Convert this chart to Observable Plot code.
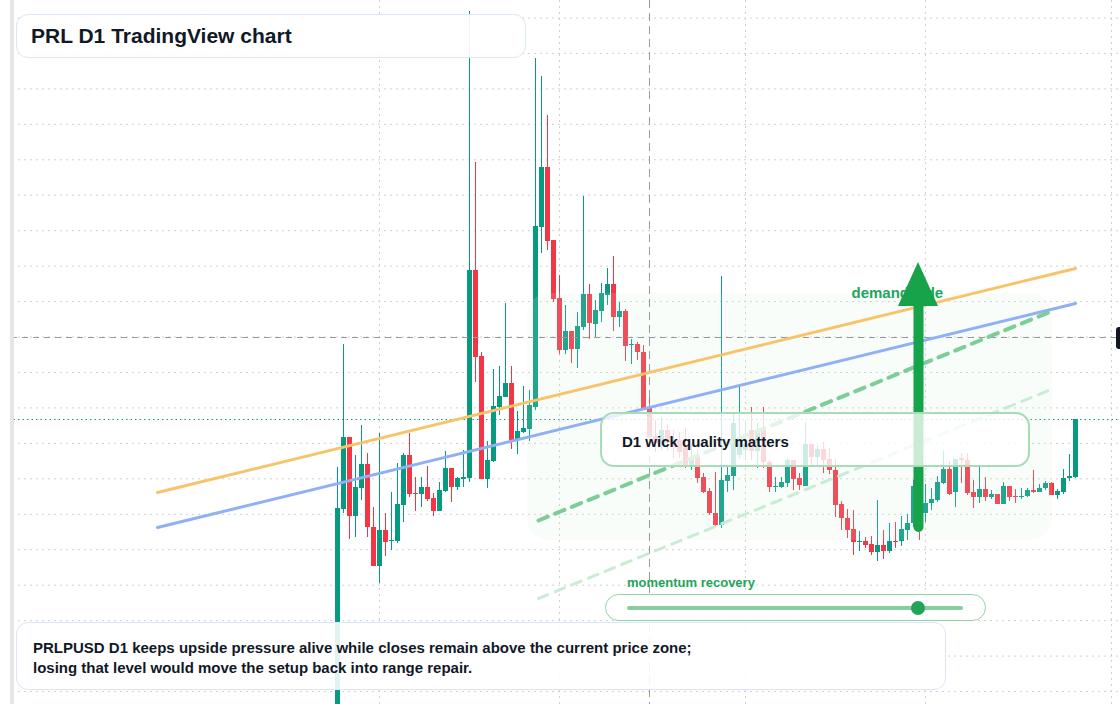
<!DOCTYPE html>
<html>
<head>
<meta charset="utf-8">
<script src="https://cdn.jsdelivr.net/npm/d3@7"></script>
<script src="https://cdn.jsdelivr.net/npm/@observablehq/plot@0.6"></script>
<style>
html, body { margin: 0; padding: 0; background: #fff; }
#wrap { position: relative; width: 1120px; height: 704px; overflow: hidden; background: #fff;
  font-family: "Liberation Sans", Arial, sans-serif; }
#chart { position: absolute; left: 0; top: 0; }
#chart svg { display: block; }
.ov { position: absolute; box-sizing: border-box; }
.leftmask { left: 0; top: 0; width: 10px; height: 704px; background: #fff; }
.leftstrip { left: 10px; top: 0; width: 4px; height: 704px; background: #e6e6e6; }
.titlebox { left: 16px; top: 14px; width: 510px; height: 44px; border: 1.5px solid #dbe6f8; border-radius: 12px;
  background: rgba(255,255,255,0.92); padding-left: 14px; font-weight: bold; font-size: 21px; line-height: 41px; color: #111827; white-space: nowrap; }
.capbox { left: 16px; top: 622px; width: 930px; height: 68px; border: 1.5px solid #dbe6f8; border-radius: 12px;
  background: rgba(255,255,255,0.88); padding-left: 16px; padding-top: 14.5px; font-weight: bold; font-size: 15px; line-height: 20px; color: #111827; white-space: nowrap; }
.notebox { left: 600px; top: 412px; width: 430px; height: 55px; border: 2px solid #a6dcb6; border-radius: 14px;
  background: rgba(255,255,255,0.78); padding-left: 20px; padding-top: 18px; font-weight: bold; font-size: 15px; line-height: 20px; color: #111827; white-space: nowrap; }
.momlabel { left: 627px; top: 574.5px; font-weight: bold; font-size: 13px; line-height: 16px; color: #22a55a; white-space: nowrap; }
.slider { left: 605px; top: 594px; width: 381px; height: 27px; border: 1.5px solid #8fd4a6; border-radius: 14px; background: #fff; }
.track { left: 627px; top: 606px; width: 336px; height: 4px; border-radius: 2px; background: #86cf9c; }
.knob { left: 911px; top: 601px; width: 14px; height: 14px; border-radius: 50%; background: #22a55a; }
.pricetag { left: 1116px; top: 327px; width: 20px; height: 22px; border-radius: 3px; background: #131722; }
</style>
</head>
<body>
<div id="wrap">
  <div id="chart"></div>
  <div class="ov leftmask"></div>
  <div class="ov leftstrip"></div>
  <div class="ov pricetag"></div>
  <div class="ov notebox">D1 wick quality matters</div>
  <div class="ov momlabel">momentum recovery</div>
  <div class="ov slider"></div>
  <div class="ov track"></div>
  <div class="ov knob"></div>
  <div class="ov titlebox">PRL D1 TradingView chart</div>
  <div class="ov capbox">PRLPUSD D1 keeps upside pressure alive while closes remain above the current price zone;<br>losing that level would move the setup back into range repair.</div>
</div>
<script>
// ---- data (daily candles) ----
const firstCandle = "2025-03-25";
const opens = [0.288,0.491,0.563,0.484,0.512,0.536,0.473,0.434,0.470,0.459,0.459,0.495,0.545,0.507,0.506,0.513,0.502,0.489,0.509,0.532,
  0.513,0.521,0.522,0.730,0.644,0.521,0.539,0.593,0.603,0.617,0.560,0.568,0.571,0.593,0.773,0.833,0.760,0.702,0.650,0.669,
  0.651,0.673,0.706,0.676,0.689,0.705,0.716,0.683,0.689,0.655,0.656,0.648,0.593,0.564,0.558,0.570,0.559,0.560,0.553,0.535,
  0.543,0.523,0.509,0.487,0.475,0.519,0.524,0.545,0.550,0.570,0.549,0.570,0.538,0.513,0.513,0.517,0.540,0.522,0.514,0.556,
  0.543,0.551,0.541,0.530,0.496,0.482,0.471,0.458,0.459,0.456,0.448,0.455,0.449,0.459,0.459,0.470,0.477,0.495,0.487,0.497,
  0.500,0.517,0.531,0.508,0.542,0.540,0.508,0.503,0.511,0.503,0.506,0.496,0.514,0.504,0.503,0.504,0.510,0.508,0.512,0.517,
  0.505,0.508,0.522,0.523];
const highs = [0.533,0.656,0.563,0.545,0.575,0.547,0.493,0.567,0.487,0.508,0.537,0.547,0.567,0.523,0.523,0.534,0.507,0.518,0.549,0.532,
  0.523,0.550,0.989,0.838,0.648,0.559,0.631,0.634,0.697,0.634,0.589,0.614,0.610,0.942,0.924,0.885,0.760,0.725,0.695,0.669,
  0.688,0.804,0.716,0.700,0.717,0.732,0.744,0.698,0.691,0.661,0.658,0.655,0.607,0.580,0.583,0.576,0.570,0.568,0.572,0.555,
  0.550,0.527,0.512,0.528,0.724,0.533,0.587,0.614,0.580,0.593,0.577,0.593,0.540,0.523,0.523,0.542,0.540,0.527,0.578,0.556,
  0.555,0.558,0.552,0.541,0.499,0.491,0.490,0.469,0.463,0.464,0.500,0.470,0.477,0.478,0.484,0.486,0.520,0.505,0.516,0.512,
  0.524,0.549,0.539,0.541,0.547,0.547,0.520,0.535,0.523,0.510,0.506,0.518,0.514,0.511,0.512,0.512,0.530,0.516,0.519,0.518,
  0.511,0.531,0.546,0.581];
const lows = [0.284,0.487,0.461,0.463,0.500,0.463,0.434,0.417,0.444,0.450,0.457,0.478,0.503,0.489,0.493,0.499,0.484,0.489,0.508,0.498,
  0.510,0.513,0.518,0.618,0.521,0.512,0.538,0.585,0.603,0.551,0.546,0.567,0.559,0.590,0.747,0.750,0.698,0.646,0.646,0.637,
  0.632,0.670,0.661,0.662,0.678,0.695,0.669,0.673,0.639,0.636,0.640,0.592,0.553,0.548,0.550,0.550,0.542,0.542,0.532,0.530,
  0.517,0.507,0.485,0.474,0.472,0.508,0.510,0.542,0.540,0.540,0.532,0.532,0.508,0.508,0.512,0.513,0.510,0.510,0.514,0.533,
  0.533,0.527,0.526,0.483,0.470,0.462,0.445,0.449,0.452,0.445,0.439,0.441,0.447,0.452,0.454,0.460,0.473,0.460,0.478,0.490,
  0.498,0.516,0.505,0.493,0.517,0.505,0.492,0.497,0.499,0.501,0.496,0.496,0.499,0.497,0.501,0.503,0.507,0.508,0.510,0.505,
  0.501,0.506,0.519,0.522];
const closes = [0.492,0.563,0.484,0.513,0.536,0.473,0.434,0.470,0.458,0.460,0.496,0.545,0.506,0.506,0.513,0.501,0.489,0.510,0.532,0.513,
  0.522,0.523,0.730,0.643,0.521,0.540,0.594,0.604,0.617,0.560,0.569,0.572,0.595,0.774,0.833,0.759,0.701,0.650,0.669,0.651,
  0.674,0.706,0.677,0.690,0.707,0.716,0.683,0.689,0.654,0.656,0.648,0.592,0.563,0.557,0.570,0.557,0.553,0.548,0.535,0.543,
  0.522,0.508,0.487,0.475,0.520,0.525,0.577,0.560,0.556,0.549,0.570,0.538,0.513,0.514,0.518,0.540,0.521,0.515,0.556,0.543,
  0.551,0.540,0.530,0.495,0.482,0.470,0.458,0.459,0.455,0.448,0.455,0.449,0.459,0.458,0.471,0.477,0.514,0.472,0.497,0.501,
  0.518,0.531,0.506,0.541,0.540,0.507,0.503,0.511,0.503,0.506,0.496,0.514,0.503,0.503,0.504,0.510,0.508,0.512,0.517,0.505,
  0.509,0.522,0.524,0.581];

// chart furniture values
const monthTicks = ["2025-04-01", "2025-05-01", "2025-06-01", "2025-07-01", "2025-08-01"];
const gridPrices = [0.9825,0.9471,0.9116,0.8762,0.8407,0.8053,0.7698,0.7344,0.6989,0.6635,
  0.6280,0.5926,0.5571,0.5217,0.4862,0.4508,0.4153,0.3799,0.3444,0.3090];
const crosshairDate = "2025-05-16";
const crosshairPrice = 0.663;
const resistanceTrend = [["2025-02-23", 0.508], ["2025-07-26", 0.732]];
const supportTrend = [["2025-02-23", 0.473], ["2025-07-26", 0.697]];
const channelUpper = [["2025-04-27T12:00:00Z", 0.480], ["2025-07-21T12:00:00Z", 0.688]];
const channelLower = [["2025-04-27T12:00:00Z", 0.402], ["2025-07-21T12:00:00Z", 0.610]];
const demandZone = {start: "2025-04-25T16:00:00Z", end: "2025-07-22T04:00:00Z", top: 0.707, bottom: 0.460};
const demandLabel = {date: "2025-06-18T16:00:00Z", price: 0.707, text: "demand side"};
const arrowShaft = {date: "2025-06-29T20:00:00Z", from: 0.473, to: 0.700};
const arrowHeadPts = [["2025-06-26T12:00:00Z", 0.694], ["2025-06-29T20:00:00Z", 0.738], ["2025-07-03T04:00:00Z", 0.694]];

// ---- build ----
const UP = "#089981", DOWN = "#f23645";
const t0 = new Date(firstCandle);
const dates = d3.utcDay.range(t0, d3.utcDay.offset(t0, opens.length));
const candles = dates.map((date, i) => ({date, open: opens[i], high: highs[i], low: lows[i], close: closes[i]}));
const pairs = arr => arr.map(([d, p]) => ({date: new Date(d), price: p}));
const DAY = 864e5;
const xDomain = [new Date(+t0 - (337 / 6) * DAY), new Date(+t0 + (783 / 6) * DAY)];
const lastClose = closes[closes.length - 1];
const font = "Liberation Sans, Arial, sans-serif";

const chart = Plot.plot({
  width: 1120,
  height: 704,
  margin: 0,
  style: {background: "#fff", fontFamily: font},
  x: {type: "utc", domain: xDomain, axis: null},
  y: {domain: [0.296, 1.0], axis: null},
  marks: [
    Plot.ruleX(monthTicks.map(d => new Date(d)), {stroke: "#d0d0d0", strokeDasharray: "2,4"}),
    Plot.ruleY(gridPrices, {stroke: "#d0d0d0", strokeDasharray: "2,4"}),
    Plot.ruleY([lastClose], {stroke: UP, strokeDasharray: "1.5,3", strokeWidth: 1.2}),
    Plot.ruleX(candles, {x: "date", y1: "low", y2: "high", stroke: d => d.close >= d.open ? UP : DOWN, strokeWidth: 1, clip: true}),
    Plot.ruleX(candles, {x: "date", y1: "open", y2: "close", stroke: d => d.close >= d.open ? UP : DOWN, strokeWidth: 5, clip: true}),
    Plot.rect([demandZone], {x1: d => new Date(d.start), x2: d => new Date(d.end), y1: "bottom", y2: "top",
      fill: "#d4f3de", fillOpacity: 0.14, rx: 22}),
    Plot.ruleX([new Date(crosshairDate)], {stroke: "#9a9a9a", strokeDasharray: "8,5"}),
    Plot.ruleY([crosshairPrice], {stroke: "#9a9a9a", strokeDasharray: "6,5"}),
    Plot.line(pairs(resistanceTrend), {x: "date", y: "price", stroke: "#f7c46c", strokeWidth: 3}),
    Plot.line(pairs(supportTrend), {x: "date", y: "price", stroke: "#8fb0f5", strokeWidth: 3}),
    Plot.line(pairs(channelUpper), {x: "date", y: "price", stroke: "#7dce96", strokeWidth: 4, strokeDasharray: "10,8"}),
    Plot.line(pairs(channelLower), {x: "date", y: "price", stroke: "#c8ecd4", strokeWidth: 3, strokeDasharray: "10,8"}),
    Plot.text([demandLabel], {x: d => new Date(d.date), y: "price", text: "text", textAnchor: "start",
      fill: "#22a55a", fontSize: 15, fontWeight: "bold", fontFamily: font}),
    Plot.ruleX([arrowShaft], {x: d => new Date(d.date), y1: "from", y2: "to", stroke: "#16a34a", strokeWidth: 10, strokeLinecap: "round"}),
    Plot.areaY(pairs(arrowHeadPts), {x: "date", y1: arrowHeadPts[0][1], y2: "price", fill: "#16a34a"})
  ]
});
document.getElementById("chart").appendChild(chart);
</script>
</body>
</html>
